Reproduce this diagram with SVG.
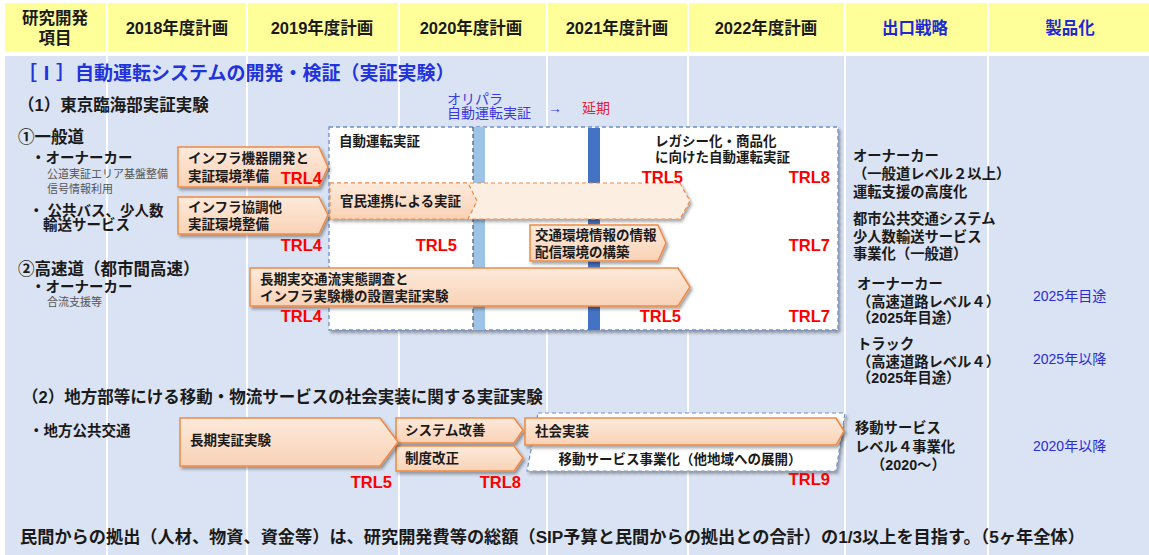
<svg xmlns="http://www.w3.org/2000/svg" width="1149" height="555" viewBox="0 0 1149 555">
<style>
text{font-family:"Liberation Sans","Noto Sans CJK JP",sans-serif;dominant-baseline:central;fill:#1a1a1a}
.hd{font-size:16.5px;font-weight:bold;text-anchor:middle}
.hdb{font-size:16.5px;font-weight:bold;text-anchor:middle;fill:#1f2ad6}
.ttl{font-size:19px;font-weight:bold;fill:#2233dd}
.sec{font-size:16.5px;font-weight:bold}
.lbl{font-size:14.5px;font-weight:bold}
.sm{font-size:11px;fill:#555}
.at{font-size:13.5px;font-weight:bold}
.ex{font-size:14.3px;font-weight:bold}
.bl{font-size:14px;fill:#2b2bd9}
.trl{font-family:"Liberation Sans",sans-serif;font-size:16.5px;font-weight:bold;fill:#ff0000;text-anchor:end}
.arr{fill:url(#peach);stroke:#ee8a45;stroke-width:1.5;filter:url(#sh)}
.arrl{fill:#fdeee2;stroke:#ee8a45;stroke-width:1.2;stroke-dasharray:4 3;filter:url(#sh)}
.arrd{fill:url(#peach);stroke:#ee8a45;stroke-width:1.2;stroke-dasharray:4 3}
.sep{stroke:#ffffff;stroke-width:2}
</style>
<defs>
<linearGradient id="peach" x1="0" y1="0" x2="0" y2="1">
<stop offset="0" stop-color="#fdeadb"/>
<stop offset="1" stop-color="#f9d2b6"/>
</linearGradient>
<filter id="sh" x="-10%" y="-20%" width="130%" height="160%">
<feDropShadow dx="2" dy="2.5" stdDeviation="1.5" flood-color="#000" flood-opacity="0.35"/>
</filter>
</defs>

<!-- background -->
<rect x="0" y="0" width="1149" height="555" fill="#ffffff"/>
<rect x="5" y="3" width="1144" height="49" fill="#ffff99"/>
<rect x="5" y="56" width="1144" height="499" fill="#dae3f3"/>
<g id="grid">
<line class="sep" x1="107" y1="3" x2="107" y2="555"/>
<line class="sep" x1="247" y1="3" x2="247" y2="555"/>
<line class="sep" x1="399" y1="3" x2="399" y2="555"/>
<line class="sep" x1="547" y1="3" x2="547" y2="555"/>
<line class="sep" x1="688" y1="3" x2="688" y2="555"/>
<line class="sep" x1="845" y1="3" x2="845" y2="555"/>
<line class="sep" x1="988" y1="3" x2="988" y2="555"/>
</g>

<!-- header -->
<g id="header">
<text class="hd" x="55" y="18">研究開発</text>
<text class="hd" x="55" y="38">項目</text>
<text class="hd" x="177" y="28">2018年度計画</text>
<text class="hd" x="322" y="28">2019年度計画</text>
<text class="hd" x="471" y="28">2020年度計画</text>
<text class="hd" x="617" y="28">2021年度計画</text>
<text class="hd" x="766" y="28">2022年度計画</text>
<text class="hdb" x="915" y="28">出口戦略</text>
<text class="hdb" x="1070" y="28">製品化</text>
</g>

<text class="ttl" x="18" y="73">［Ⅰ］自動運転システムの開発・検証（実証実験）</text>
<text class="sec" x="18" y="105">（1）東京臨海部実証実験</text>
<g id="olypara">
<text x="447" y="99" style="font-size:14px;fill:#3a3ae0">オリパラ</text>
<text x="447" y="113" style="font-size:14px;fill:#3a3ae0">自動運転実証</text>
<text x="548" y="108" style="font-size:14px;fill:#3a3ae0">→</text>
<text x="582" y="108" style="font-size:14px;fill:#e0203a">延期</text>
</g>

<!-- left labels -->
<g id="labels1">
<text class="sec" x="18" y="137">①一般道</text>
<text class="lbl" x="31" y="158">・オーナーカー</text>
<text class="sm" x="47" y="174">公道実証エリア基盤整備</text>
<text class="sm" x="47" y="189">信号情報利用</text>
<text class="lbl" x="29" y="211">・ 公共バス、少人数</text>
<text class="lbl" x="43" y="225">輸送サービス</text>
<text class="sec" x="18" y="269">②高速道（都市間高速）</text>
<text class="lbl" x="31" y="287">・オーナーカー</text>
<text class="sm" x="47" y="302">合流支援等</text>
</g>

<!-- demonstration box -->
<g id="demo-box">
<rect x="329" y="127" width="509" height="203" fill="#ffffff" stroke="#6f8fc8" stroke-width="1.3" stroke-dasharray="4 3" filter="url(#sh)"/>
<rect x="473" y="127" width="12" height="203" fill="#9dc3e6"/>
<line x1="473" y1="127" x2="473" y2="330" stroke="#44577a" stroke-width="1.2" stroke-dasharray="4 3"/>
<rect x="588" y="128" width="12" height="202" fill="#4472c4"/>
<text class="at" x="339" y="141">自動運転実証</text>
<text class="at" x="655" y="141">レガシー化・商品化</text>
<text class="at" x="655" y="157">に向けた自動運転実証</text>
</g>

<!-- arrows section 1 -->
<g id="a1">
<polygon class="arr" points="178,147 319,147 328,167 319,187 178,187"/>
<text class="at" x="188" y="158">インフラ機器開発と</text>
<text class="at" x="188" y="176">実証環境準備</text>
</g>
<g id="a2">
<polygon class="arr" points="178,197 319,197 328,215 319,234 178,234"/>
<text class="at" x="188" y="207">インフラ協調他</text>
<text class="at" x="188" y="224">実証環境整備</text>
</g>
<g id="a3">
<polygon class="arrl" points="330,183 680,183 690,201 680,219 330,219"/>
<polygon class="arrd" points="330,183 468,183 477,201 468,219 330,219"/>
<text class="at" x="340" y="201">官民連携による実証</text>
</g>
<g id="a4">
<polygon class="arr" points="530,225 658,225 666,243 658,261 530,261"/>
<text class="at" x="535" y="235">交通環境情報の情報</text>
<text class="at" x="535" y="252">配信環境の構築</text>
</g>
<g id="a5">
<polygon class="arr" points="250,268 678,268 690,287 678,306 250,306"/>
<text class="at" x="260" y="279">長期実交通流実態調査と</text>
<text class="at" x="260" y="296">インフラ実験機の設置実証実験</text>
</g>

<!-- TRL section 1 -->
<g id="trl1">
<text class="trl" x="322" y="178">TRL4</text>
<text class="trl" x="683" y="177">TRL5</text>
<text class="trl" x="830" y="177">TRL8</text>
<text class="trl" x="322" y="245">TRL4</text>
<text class="trl" x="457" y="245">TRL5</text>
<text class="trl" x="830" y="245">TRL7</text>
<text class="trl" x="322" y="316">TRL4</text>
<text class="trl" x="681" y="316">TRL5</text>
<text class="trl" x="830" y="316">TRL7</text>
</g>

<!-- exit strategy section 1 -->
<g id="exit1">
<text class="ex" x="853" y="156">オーナーカー</text>
<text class="ex" x="853" y="174">（一般道レベル２以上）</text>
<text class="ex" x="853" y="192">運転支援の高度化</text>
<text class="ex" x="853" y="219">都市公共交通システム</text>
<text class="ex" x="853" y="237">少人数輸送サービス</text>
<text class="ex" x="853" y="254">事業化（一般道）</text>
<text class="ex" x="857" y="284">オーナーカー</text>
<text class="ex" x="857" y="302">（高速道路レベル４）</text>
<text class="ex" x="857" y="318">（2025年目途）</text>
<text class="ex" x="857" y="344">トラック</text>
<text class="ex" x="857" y="362">（高速道路レベル４）</text>
<text class="ex" x="857" y="378">（2025年目途）</text>
<text class="bl" x="1033" y="296">2025年目途</text>
<text class="bl" x="1033" y="359">2025年以降</text>
</g>

<!-- section 2 -->
<text class="sec" x="22" y="397">（2）地方部等にける移動・物流サービスの社会実装に関する実証実験</text>
<text class="lbl" x="29" y="431">・地方公共交通</text>

<g id="b5">
<polygon points="538,413 845,413 836,471 527,471" fill="#ffffff" stroke="#6f8fc8" stroke-width="1.2" stroke-dasharray="4 3" filter="url(#sh)"/>
<text class="at" x="680" y="459" style="text-anchor:middle">移動サービス事業化（他地域への展開）</text>
</g>
<g id="b2">
<polygon class="arr" points="396,418 514,418 523,430 514,443 396,443"/>
<text class="at" x="405" y="430">システム改善</text>
</g>
<g id="b3">
<polygon class="arr" points="396,446 514,446 523,458 514,471 396,471"/>
<text class="at" x="405" y="458">制度改正</text>
</g>
<g id="b1">
<polygon class="arr" points="180,418 380,418 398,442 380,466 180,466"/>
<text class="at" x="190" y="440">長期実証実験</text>
</g>
<g id="b4">
<polygon class="arr" points="525,418 836,418 844,431 836,445 525,445"/>
<text class="at" x="535" y="431">社会実装</text>
</g>
<g id="trl2">
<text class="trl" x="392" y="482">TRL5</text>
<text class="trl" x="521" y="482">TRL8</text>
<text class="trl" x="830" y="479">TRL9</text>
</g>
<g id="exit2">
<text class="ex" x="855" y="428">移動サービス</text>
<text class="ex" x="855" y="447">レベル４事業化</text>
<text class="ex" x="871" y="465">（2020〜）</text>
<text class="bl" x="1033" y="446">2020年以降</text>
</g>
<g id="connectors"/>

<text x="20" y="537" style="font-size:17.2px;font-weight:bold">民間からの拠出（人材、物資、資金等）は、研究開発費等の総額（SIP予算と民間からの拠出との合計）の1/3以上を目指す。（5ヶ年全体）</text>
</svg>
